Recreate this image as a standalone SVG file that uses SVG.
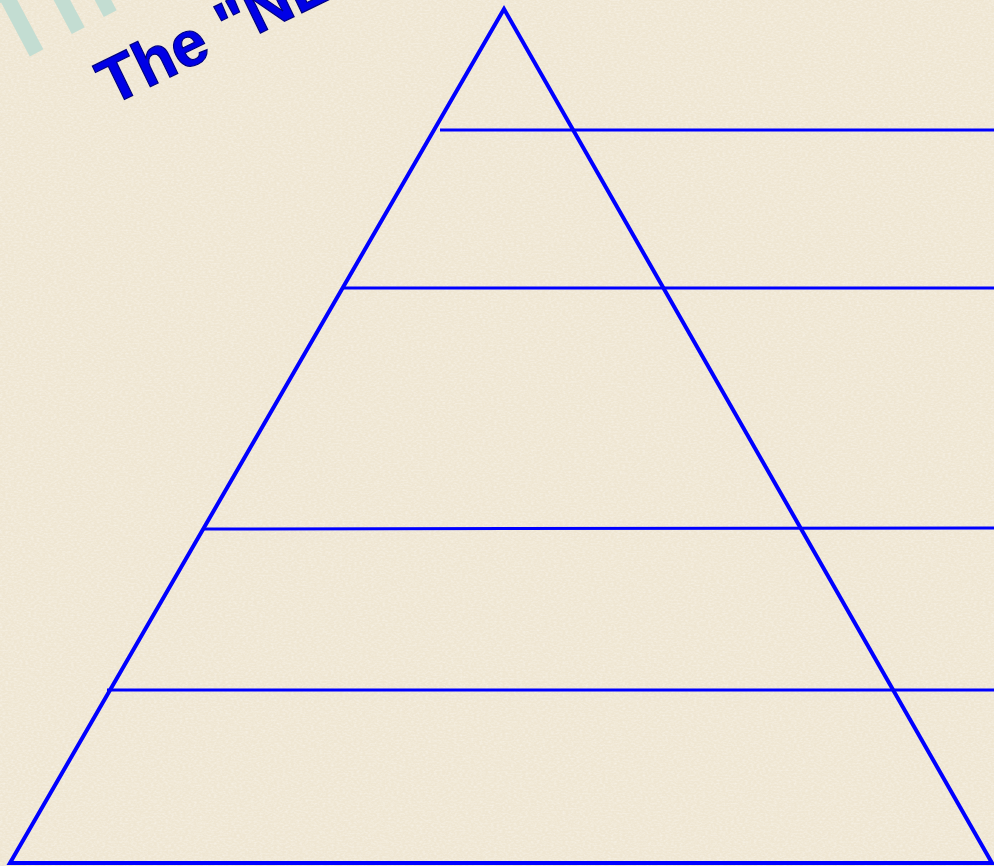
<svg xmlns="http://www.w3.org/2000/svg" width="994" height="866" viewBox="0 0 994 866">
  <style>
    .edge { fill: none; stroke: #0000ff; stroke-width: 4; stroke-linejoin: miter; }
    .level { stroke: #0000ff; stroke-width: 3; }
    .title { font-family: "Liberation Sans", Arial, sans-serif; font-weight: bold; }
  </style>
  <defs>
    <filter id="canvas" x="0" y="0" width="100%" height="100%">
      <feTurbulence type="fractalNoise" baseFrequency="0.35 0.6" numOctaves="2" seed="3" result="n"/>
      <feColorMatrix in="n" type="matrix" values="0 0 0 0 1  0 0 0 0 1  0 0 0 0 1  0 0 0 -1.2 0.75" result="w"/>
      <feComposite in="w" in2="SourceGraphic" operator="in"/>
    </filter>
  </defs>
  <g id="background">
    <rect width="994" height="866" fill="#efe6d2"/>
    <rect width="994" height="866" fill="#efe6d2" filter="url(#canvas)" opacity="0.6"/>
  </g>
  <g id="title-shadow">
    <text class="title" x="0" y="0" font-size="106" fill="#c3ddd2" transform="translate(8,68) rotate(-28)">The</text>
  </g>
  <g id="title">
    <text class="title" x="0" y="0" font-size="64" fill="#0000e6" stroke="#000080" stroke-width="1.2" transform="translate(111,106) rotate(-26)">The "NE</text>
  </g>
  <g id="pyramid">
    <polygon class="edge" points="504,9 10,863 992,863"/>
  </g>
  <g id="connectors">
    <line class="level" x1="440" y1="130" x2="994" y2="130"/>
    <line class="level" x1="343" y1="288" x2="994" y2="288"/>
    <line class="level" x1="204" y1="529" x2="994" y2="528"/>
    <line class="level" x1="107" y1="690" x2="994" y2="690"/>
  </g>
</svg>
